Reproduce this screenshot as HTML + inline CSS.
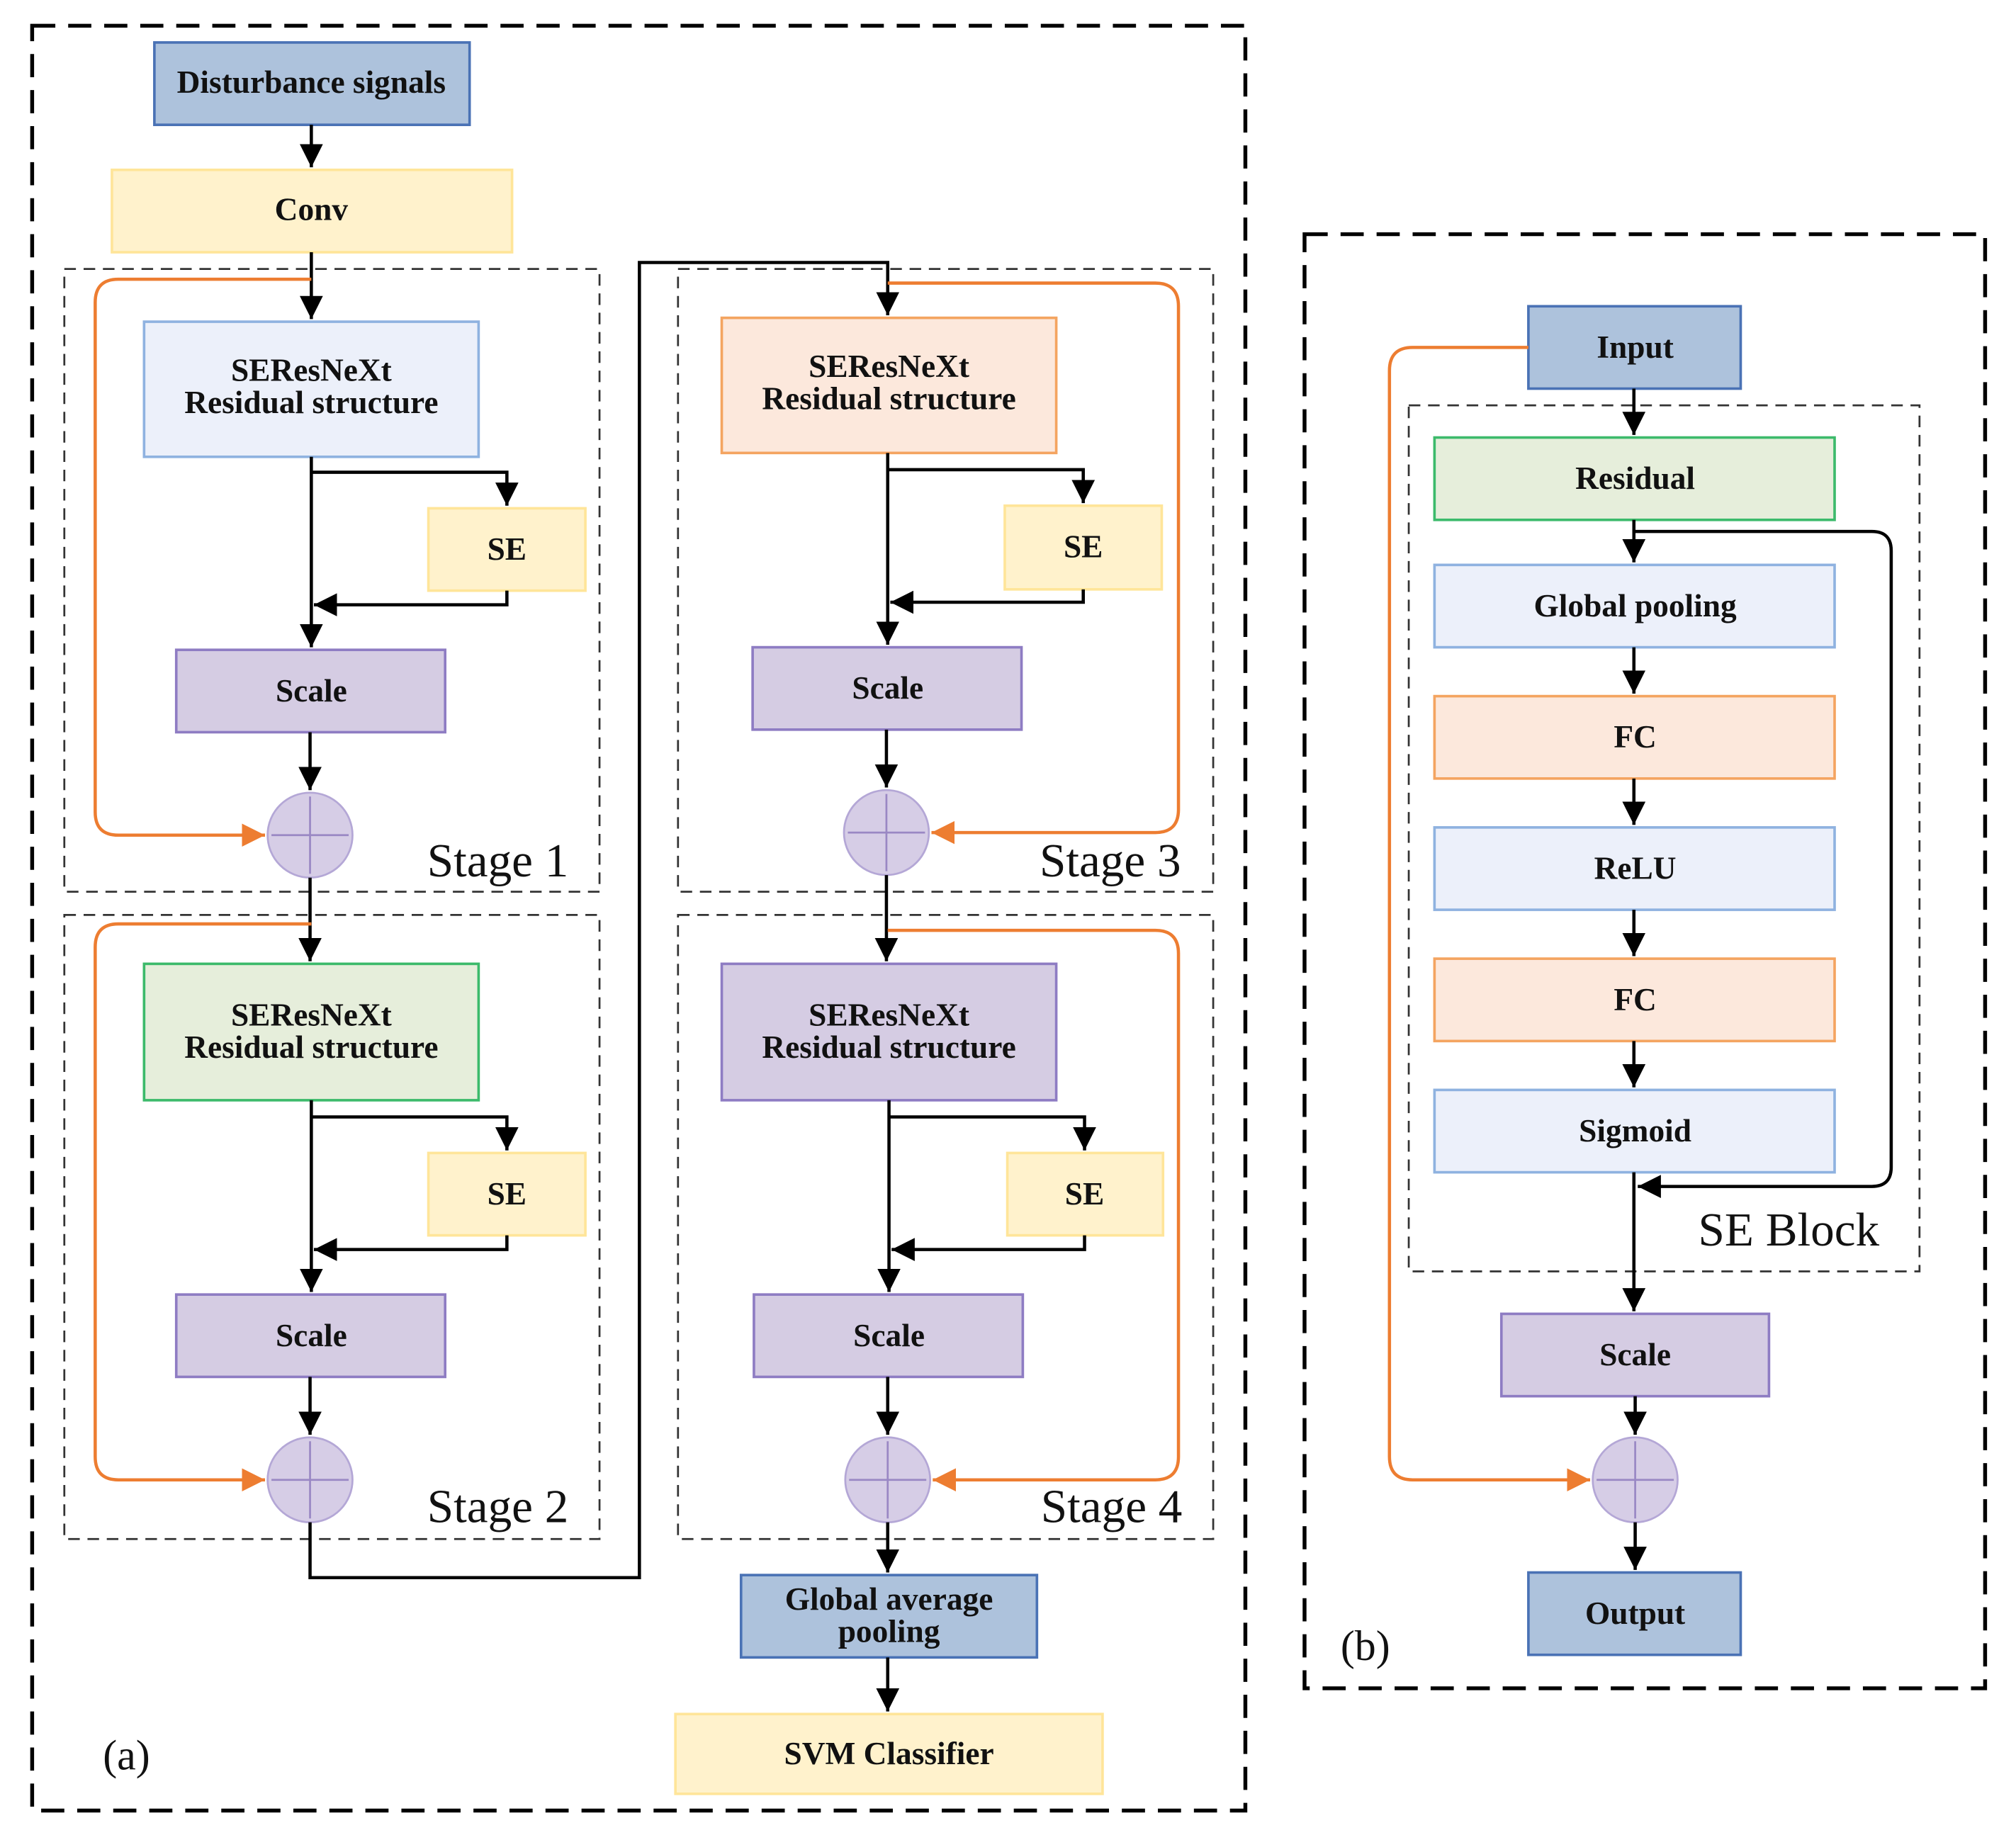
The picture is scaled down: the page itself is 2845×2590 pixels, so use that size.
<!DOCTYPE html>
<html><head><meta charset="utf-8"><style>
html,body{margin:0;padding:0;background:#fff;}
svg{display:block;}
text{font-family:"Liberation Serif",serif;font-weight:bold;font-size:25px;fill:#111;text-anchor:middle;}
.st{font-weight:normal;font-size:37px;text-anchor:start;}
</style></head><body>
<svg width="2845" height="2590" viewBox="0 0 1567 1426" preserveAspectRatio="none" xmlns="http://www.w3.org/2000/svg">
<defs>
<marker id="a" markerUnits="userSpaceOnUse" markerWidth="20" markerHeight="22" refX="18" refY="9" orient="auto">
<path d="M0,0 L18,9 L0,18 Z" fill="#000"/></marker>
<marker id="o" markerUnits="userSpaceOnUse" markerWidth="20" markerHeight="22" refX="18" refY="9" orient="auto">
<path d="M0,0 L18,9 L0,18 Z" fill="#ed7d31"/></marker>
<g id="plus"><circle r="33" fill="#d6cde6" stroke="#b4a7d6" stroke-width="1.5"/><path d="M-30,0H30M0,-30V30" stroke="#9a88c4" stroke-width="1.5"/></g>
</defs>
<g fill="none" stroke="#000">
<rect x="25" y="20" width="943" height="1387" stroke-width="3" stroke-dasharray="18,10"/>
<rect x="1014" y="182" width="529" height="1130" stroke-width="3" stroke-dasharray="18,10"/>
<g stroke="#333" stroke-width="1.5" stroke-dasharray="9,6">
<rect x="50" y="209" width="416" height="484"/>
<rect x="50" y="711" width="416" height="485"/>
<rect x="527" y="209" width="416" height="484"/>
<rect x="527" y="711" width="416" height="485"/>
<rect x="1095" y="315" width="397" height="673"/>
</g>
</g>
<g stroke-width="2">
<rect x="120" y="33" width="245" height="64" fill="#adc2dc" stroke="#4a72b5"/>
<rect x="87" y="132" width="311" height="64" fill="#fff2cc" stroke="#ffe599"/>
<rect x="112" y="250" width="260" height="105" fill="#ecf0fa" stroke="#8fb2e0"/>
<rect x="333" y="395" width="122" height="64" fill="#fff2cc" stroke="#ffe599"/>
<rect x="137" y="505" width="209" height="64" fill="#d5cce3" stroke="#8e7cc3"/>
<rect x="112" y="749" width="260" height="106" fill="#e6eedb" stroke="#3cba6b"/>
<rect x="333" y="896" width="122" height="64" fill="#fff2cc" stroke="#ffe599"/>
<rect x="137" y="1006" width="209" height="64" fill="#d5cce3" stroke="#8e7cc3"/>
<rect x="561" y="247" width="260" height="105" fill="#fce8dc" stroke="#f4a460"/>
<rect x="781" y="393" width="122" height="65" fill="#fff2cc" stroke="#ffe599"/>
<rect x="585" y="503" width="209" height="64" fill="#d5cce3" stroke="#8e7cc3"/>
<rect x="561" y="749" width="260" height="106" fill="#d5cce3" stroke="#8e7cc3"/>
<rect x="783" y="896" width="121" height="64" fill="#fff2cc" stroke="#ffe599"/>
<rect x="586" y="1006" width="209" height="64" fill="#d5cce3" stroke="#8e7cc3"/>
<rect x="576" y="1224" width="230" height="64" fill="#adc2dc" stroke="#4a72b5"/>
<rect x="525" y="1332" width="332" height="62" fill="#fff2cc" stroke="#ffe599"/>
<rect x="1188" y="238" width="165" height="64" fill="#adc2dc" stroke="#4a72b5"/>
<rect x="1115" y="340" width="311" height="64" fill="#e6eedb" stroke="#3cba6b"/>
<rect x="1115" y="439" width="311" height="64" fill="#ecf0fa" stroke="#8fb2e0"/>
<rect x="1115" y="541" width="311" height="64" fill="#fce8dc" stroke="#f4a460"/>
<rect x="1115" y="643" width="311" height="64" fill="#ecf0fa" stroke="#8fb2e0"/>
<rect x="1115" y="745" width="311" height="64" fill="#fce8dc" stroke="#f4a460"/>
<rect x="1115" y="847" width="311" height="64" fill="#ecf0fa" stroke="#8fb2e0"/>
<rect x="1167" y="1021" width="208" height="64" fill="#d5cce3" stroke="#8e7cc3"/>
<rect x="1188" y="1222" width="165" height="64" fill="#adc2dc" stroke="#4a72b5"/>
</g>
<use href="#plus" x="241" y="649"/>
<use href="#plus" x="241" y="1150"/>
<use href="#plus" x="689" y="647"/>
<use href="#plus" x="690" y="1150"/>
<use href="#plus" x="1271" y="1150"/>
<g fill="none" stroke="#000" stroke-width="2.5">
<path d="M242,97V130" marker-end="url(#a)"/>
<path d="M242,196V248" marker-end="url(#a)"/>
<path d="M242,355V503" marker-end="url(#a)"/>
<path d="M242,367H394V393" marker-end="url(#a)"/>
<path d="M394,459V470H244" marker-end="url(#a)"/>
<path d="M241,569V614" marker-end="url(#a)"/>
<path d="M241,682V747" marker-end="url(#a)"/>
<path d="M242,855V1004" marker-end="url(#a)"/>
<path d="M242,868H394V894" marker-end="url(#a)"/>
<path d="M394,960V971H244" marker-end="url(#a)"/>
<path d="M241,1070V1115" marker-end="url(#a)"/>
<path d="M241,1183V1226H497V204H690V245" marker-end="url(#a)"/>
<path d="M690,352V501" marker-end="url(#a)"/>
<path d="M690,365H842V391" marker-end="url(#a)"/>
<path d="M842,458V468H692" marker-end="url(#a)"/>
<path d="M689,567V612" marker-end="url(#a)"/>
<path d="M689,680V747" marker-end="url(#a)"/>
<path d="M691,855V1004" marker-end="url(#a)"/>
<path d="M691,868H843V894" marker-end="url(#a)"/>
<path d="M843,960V971H693" marker-end="url(#a)"/>
<path d="M690,1070V1115" marker-end="url(#a)"/>
<path d="M690,1183V1222" marker-end="url(#a)"/>
<path d="M690,1288V1330" marker-end="url(#a)"/>
<path d="M1270,302V338" marker-end="url(#a)"/>
<path d="M1270,404V437" marker-end="url(#a)"/>
<path d="M1270,413H1455Q1470,413 1470,428V907Q1470,922 1455,922H1273" marker-end="url(#a)"/>
<path d="M1270,503V539" marker-end="url(#a)"/>
<path d="M1270,605V641" marker-end="url(#a)"/>
<path d="M1270,707V743" marker-end="url(#a)"/>
<path d="M1270,809V845" marker-end="url(#a)"/>
<path d="M1270,911V1019" marker-end="url(#a)"/>
<path d="M1271,1085V1115" marker-end="url(#a)"/>
<path d="M1271,1183V1220" marker-end="url(#a)"/>
</g>
<g fill="none" stroke="#ed7d31" stroke-width="2.5">
<path d="M242,217H92Q74,217 74,235V631Q74,649 92,649H206" marker-end="url(#o)"/>
<path d="M242,718H92Q74,718 74,736V1132Q74,1150 92,1150H206" marker-end="url(#o)"/>
<path d="M690,220H898Q916,220 916,238V629Q916,647 898,647H724" marker-end="url(#o)"/>
<path d="M690,723H898Q916,723 916,741V1132Q916,1150 898,1150H725" marker-end="url(#o)"/>
<path d="M1188,270H1098Q1080,270 1080,288V1132Q1080,1150 1098,1150H1236" marker-end="url(#o)"/>
</g>
<text x="242" y="72">Disturbance signals</text>
<text x="242" y="171">Conv</text>
<text x="242" y="296">SEResNeXt</text><text x="242" y="321">Residual structure</text>
<text x="394" y="435">SE</text>
<text x="242" y="545">Scale</text>
<text x="242" y="797">SEResNeXt</text><text x="242" y="822">Residual structure</text>
<text x="394" y="936">SE</text>
<text x="242" y="1046">Scale</text>
<text x="691" y="293">SEResNeXt</text><text x="691" y="318">Residual structure</text>
<text x="842" y="433">SE</text>
<text x="690" y="543">Scale</text>
<text x="691" y="797">SEResNeXt</text><text x="691" y="822">Residual structure</text>
<text x="843" y="936">SE</text>
<text x="691" y="1046">Scale</text>
<text x="691" y="1251">Global average</text><text x="691" y="1276">pooling</text>
<text x="691" y="1371">SVM Classifier</text>
<text x="1271" y="278">Input</text>
<text x="1271" y="380">Residual</text>
<text x="1271" y="479">Global pooling</text>
<text x="1271" y="581">FC</text>
<text x="1271" y="683">ReLU</text>
<text x="1271" y="785">FC</text>
<text x="1271" y="887">Sigmoid</text>
<text x="1271" y="1061">Scale</text>
<text x="1271" y="1262">Output</text>
<text class="st" x="332" y="681">Stage 1</text>
<text class="st" x="332" y="1183">Stage 2</text>
<text class="st" x="808" y="681">Stage 3</text>
<text class="st" x="809" y="1183">Stage 4</text>
<text class="st" x="1320" y="968">SE Block</text>
<text class="st" x="80" y="1375" style="font-size:33px">(a)</text>
<text class="st" x="1042" y="1290" style="font-size:33px">(b)</text>
</svg>
</body></html>
